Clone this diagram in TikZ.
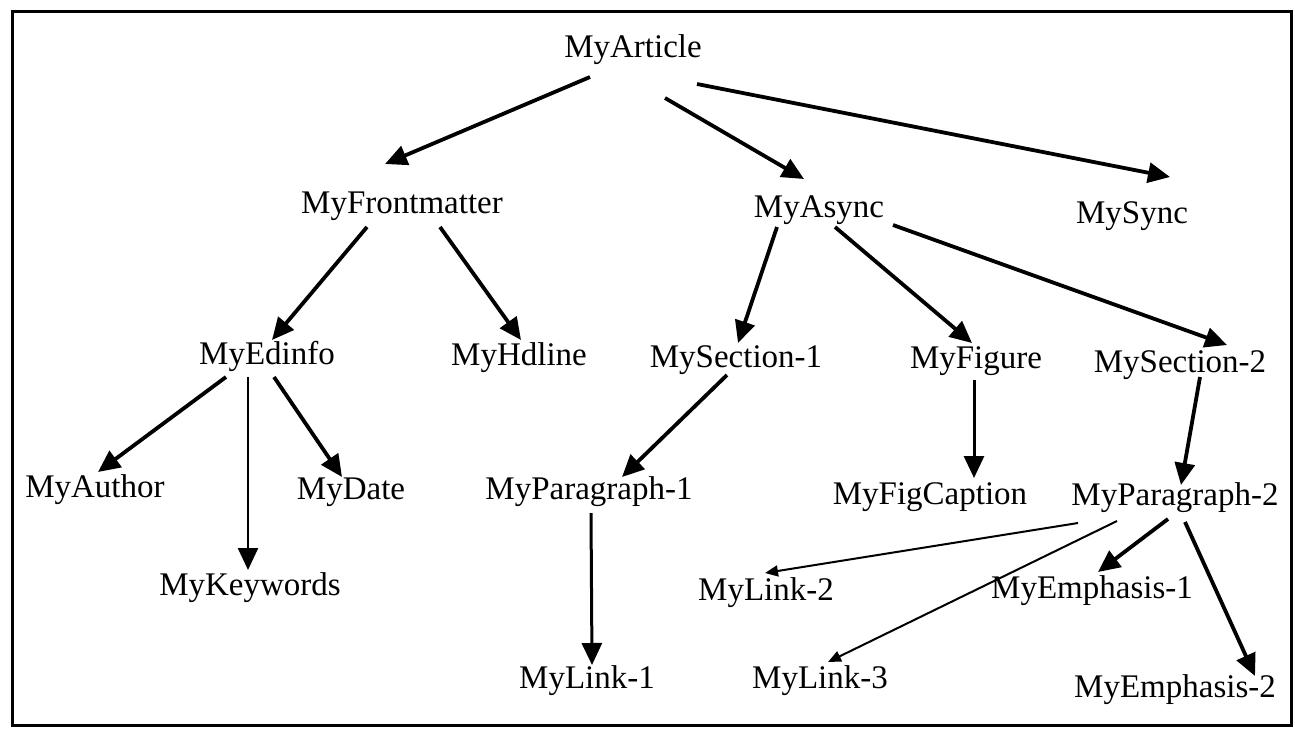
\documentclass[tikz,border=0pt]{standalone}
\usepackage{fontspec}
\setmainfont{Liberation Serif}
\usetikzlibrary{arrows.meta}

\begin{document}
\begin{tikzpicture}[x=0.5pt,y=-0.5pt,->,>={Triangle[length=11pt,width=10pt]},line width=1.9pt,
  every node/.style={font=\fontsize{16.5}{19}\selectfont,inner sep=0pt,anchor=base},
  straight/.style={line width=1.2pt},
  thin link/.style={line width=1pt,>={Triangle[length=6.5pt,width=5.5pt]}}]
\useasboundingbox (0,0) rectangle (1295,729);
\draw[-,line width=1.5pt] (12,11) rectangle (1291,725);
% level 0 and 1
\node (art) at (633,57) {MyArticle};
\node (front) at (402,213) {MyFrontmatter};
\node (async) at (819,217) {MyAsync};
\node (sync) at (1132,223) {MySync};
% level 2
\node (edinfo) at (267,364) {MyEdinfo};
\node (hdline) at (519,365) {MyHdline};
\node (sec1) at (736,367) {MySection-1};
\node (figure) at (976,368) {MyFigure};
\node (sec2) at (1180,372) {MySection-2};
% level 3
\node (author) at (95,497) {MyAuthor};
\node (date) at (351,499) {MyDate};
\node (para1) at (589,499) {MyParagraph-1};
\node (figcap) at (930,504) {MyFigCaption};
\node (para2) at (1175,505) {MyParagraph-2};
% level 4
\node (keywords) at (250,595) {MyKeywords};
\node (link2) at (766,600) {MyLink-2};
\node (emph1) at (1092,598) {MyEmphasis-1};
\node (link1) at (587,688) {MyLink-1};
\node (link3) at (820,688) {MyLink-3};
\node (emph2) at (1175,697) {MyEmphasis-2};

\draw ([shift={(-43,20)}]art.base) -- ([shift={(-17,-49)}]front.base);
\draw ([shift={(32,41)}]art.base) -- ([shift={(-15,-38)}]async.base);
\draw ([shift={(64,27)}]art.base) -- ([shift={(38,-46)}]sync.base);
\draw ([shift={(-35,14)}]front.base) -- ([shift={(5,-24)}]edinfo.base);
\draw ([shift={(38,14)}]front.base) -- ([shift={(2,-25)}]hdline.base);
\draw ([shift={(-42,10)}]async.base) -- ([shift={(2,-24)}]sec1.base);
\draw ([shift={(16,10)}]async.base) -- ([shift={(-4,-25)}]figure.base);
\draw ([shift={(74,8)}]async.base) -- ([shift={(47,-27)}]sec2.base);
\draw ([shift={(-41,13)}]edinfo.base) -- ([shift={(3,-25)}]author.base);
\draw[straight] ([shift={(-19,13)}]edinfo.base) -- ([shift={(-2,-25)}]keywords.base);
\draw ([shift={(7,13)}]edinfo.base) -- ([shift={(-9,-22)}]date.base);
\draw ([shift={(-9,8)}]sec1.base) -- ([shift={(33,-22)}]para1.base);
\draw[line width=1.5pt] ([shift={(-2,12)}]figure.base) -- ([shift={(44,-26)}]figcap.base);
\draw ([shift={(20,5)}]sec2.base) -- ([shift={(6,-20)}]para2.base);
\draw[line width=1.5pt] ([shift={(2,14)}]para1.base) -- ([shift={(5,-23)}]link1.base);
\draw[thin link] ([shift={(-97,18)}]para2.base) -- ([shift={(-1,-27)}]link2.base);
\draw[thin link] ([shift={(-58,16)}]para2.base) -- ([shift={(8,-26)}]link3.base);
\draw ([shift={(-7,14)}]para2.base) -- ([shift={(6,-26)}]emph1.base);
\draw ([shift={(10,17)}]para2.base) -- ([shift={(80,-21)}]emph2.base);
\end{tikzpicture}
\end{document}
